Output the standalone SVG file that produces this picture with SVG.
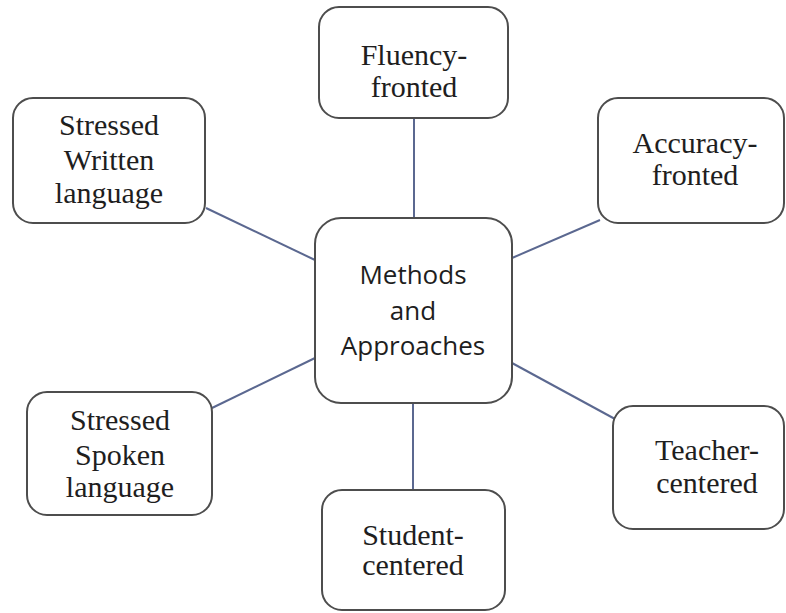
<svg xmlns="http://www.w3.org/2000/svg" width="786" height="613" viewBox="0 0 786 613">
<style>
.box{fill:#ffffff;stroke:#4d4d4d;stroke-width:2}
.lbl{font-family:"Liberation Serif","Times New Roman",serif;font-size:30px;fill:#1e1e1e;text-anchor:middle}
.ctr{font-family:"Open Sans","Liberation Sans",sans-serif;font-size:26px;fill:#1e1e1e;text-anchor:middle}
.conn{stroke:#5b6890;stroke-width:2;fill:none}
</style>
<rect width="786" height="613" fill="#ffffff"/>
<g id="connectors">
<line class="conn" x1="414" y1="118" x2="414" y2="218"/>
<line class="conn" x1="206" y1="208" x2="315" y2="260"/>
<line class="conn" x1="512" y1="258" x2="600" y2="220"/>
<line class="conn" x1="212" y1="408" x2="315" y2="358"/>
<line class="conn" x1="512" y1="363" x2="615" y2="419"/>
<line class="conn" x1="413" y1="403" x2="413" y2="490"/>
</g>
<g id="center">
<rect class="box" x="315" y="218" width="197" height="185" rx="26"/>
<text class="ctr" x="413" y="284">Methods</text>
<text class="ctr" x="413" y="320">and</text>
<text class="ctr" x="413" y="355">Approaches</text>
</g>
<g id="fluency">
<rect class="box" x="319" y="7" width="189" height="111" rx="20"/>
<text class="lbl" x="414" y="65">Fluency-</text>
<text class="lbl" x="414" y="97">fronted</text>
</g>
<g id="written">
<rect class="box" x="13" y="98" width="192" height="125" rx="20"/>
<text class="lbl" x="109" y="135">Stressed</text>
<text class="lbl" x="109" y="170">Written</text>
<text class="lbl" x="109" y="203">language</text>
</g>
<g id="accuracy">
<rect class="box" x="598" y="98" width="186" height="125" rx="20"/>
<text class="lbl" x="695" y="153">Accuracy-</text>
<text class="lbl" x="695" y="185">fronted</text>
</g>
<g id="spoken">
<rect class="box" x="27" y="392" width="185" height="123" rx="20"/>
<text class="lbl" x="120" y="430">Stressed</text>
<text class="lbl" x="120" y="465">Spoken</text>
<text class="lbl" x="120" y="497">language</text>
</g>
<g id="student">
<rect class="box" x="322" y="490" width="183" height="120" rx="20"/>
<text class="lbl" x="413" y="545">Student-</text>
<text class="lbl" x="413" y="575">centered</text>
</g>
<g id="teacher">
<rect class="box" x="613" y="406" width="171" height="123" rx="20"/>
<text class="lbl" x="707" y="460">Teacher-</text>
<text class="lbl" x="707" y="493">centered</text>
</g>
</svg>
